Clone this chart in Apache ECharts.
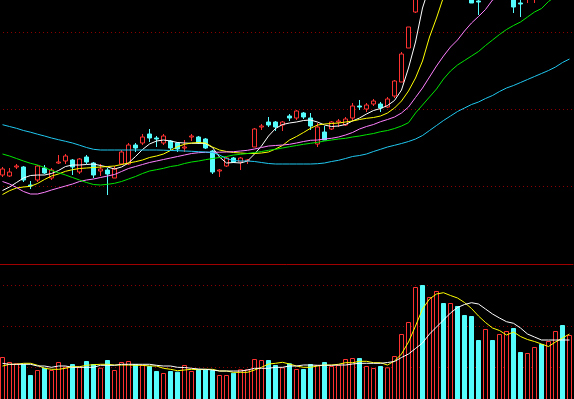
<!DOCTYPE html>
<html>
<head>
<meta charset="utf-8">
<script src="https://cdn.jsdelivr.net/npm/echarts@6/dist/echarts.min.js"></script>
<style>
  html, body { margin: 0; padding: 0; background: #000; }
  #chart-container { width: 574px; height: 399px; }
</style>
</head>
<body>
<div id="chart-container"></div>
<script>
// daily bars: [open, close, low, high]
var ohlc = [
  [8.58, 8.64, 8.56, 8.66], [8.57, 8.61, 8.56, 8.65], [8.66, 8.67, 8.64, 8.69], [8.66, 8.53, 8.51, 8.67],
  [8.48, 8.47, 8.44, 8.52], [8.53, 8.67, 8.51, 8.68], [8.65, 8.60, 8.59, 8.68], [8.55, 8.63, 8.53, 8.65],
  [8.70, 8.71, 8.69, 8.78], [8.72, 8.77, 8.69, 8.79], [8.73, 8.66, 8.58, 8.74], [8.61, 8.74, 8.59, 8.75],
  [8.76, 8.71, 8.69, 8.78], [8.70, 8.58, 8.55, 8.71], [8.62, 8.64, 8.57, 8.69], [8.63, 8.59, 8.38, 8.65],
  [8.55, 8.64, 8.55, 8.67], [8.69, 8.81, 8.68, 8.83], [8.69, 8.88, 8.68, 8.90], [8.88, 8.85, 8.81, 8.90],
  [8.90, 8.96, 8.88, 8.99], [8.99, 8.95, 8.91, 9.04], [8.95, 8.94, 8.86, 8.97], [8.90, 8.97, 8.88, 8.99],
  [8.92, 8.85, 8.83, 8.93], [8.90, 8.84, 8.81, 8.91], [8.85, 8.86, 8.81, 8.93], [8.96, 8.97, 8.92, 8.99],
  [8.96, 8.90, 8.89, 8.97], [8.94, 8.85, 8.84, 8.95], [8.82, 8.61, 8.59, 8.83], [8.62, 8.63, 8.56, 8.64],
  [8.67, 8.75, 8.66, 8.76], [8.75, 8.71, 8.70, 8.76], [8.71, 8.75, 8.63, 8.76], [8.72, 8.73, 8.69, 8.74],
  [8.86, 9.04, 8.86, 9.05], [9.06, 9.07, 9.03, 9.09], [9.11, 9.08, 9.06, 9.16], [9.11, 9.06, 9.02, 9.12],
  [9.08, 9.11, 9.02, 9.12], [9.17, 9.15, 9.12, 9.19], [9.15, 9.22, 9.13, 9.23], [9.20, 9.16, 9.14, 9.21],
  [9.15, 9.07, 9.03, 9.20], [8.89, 9.06, 8.86, 9.10], [9.01, 8.93, 8.93, 9.07], [9.04, 9.11, 9.03, 9.12],
  [9.11, 9.12, 9.06, 9.14], [9.08, 9.14, 9.07, 9.16], [9.15, 9.27, 9.12, 9.30], [9.27, 9.26, 9.23, 9.33],
  [9.24, 9.28, 9.21, 9.30], [9.29, 9.32, 9.27, 9.34], [9.29, 9.25, 9.21, 9.31], [9.26, 9.34, 9.25, 9.36],
  [9.37, 9.52, 9.35, 9.53], [9.51, 9.79, 9.51, 9.81], [9.85, 10.06, 9.85, 10.06], [10.21, 10.73, 10.20, 10.77],
  [10.98, 10.83, 10.78, 11.05], [10.78, 10.93, 10.73, 10.99], [10.93, 11.28, 10.88, 11.33], [11.33, 11.08, 11.03, 11.43],
  [11.08, 11.33, 11.03, 11.41], [11.33, 11.03, 10.95, 11.38], [10.98, 10.63, 10.58, 11.05], [10.63, 10.30, 10.30, 10.68],
  [10.32, 10.31, 10.18, 10.45], [10.35, 10.78, 10.34, 10.83], [10.83, 10.53, 10.48, 10.91], [10.53, 10.81, 10.49, 10.85],
  [10.78, 10.93, 10.73, 10.99], [10.88, 10.26, 10.20, 10.93], [10.30, 10.29, 10.16, 10.41], [10.39, 10.63, 10.30, 10.67],
  [10.58, 10.83, 10.30, 10.88], [10.83, 10.63, 10.58, 10.93], [10.63, 10.88, 10.59, 10.93], [10.88, 11.13, 10.83, 11.18],
  [11.13, 10.88, 10.83, 11.23], [10.88, 11.08, 10.83, 11.13]
];

// moving averages as drawn on the price panel
var ma5 = [8.425, 8.46, 8.505, 8.55, 8.575, 8.58, 8.58, 8.595, 8.625, 8.665, 8.68, 8.68, 8.685, 8.69, 8.675, 8.66,
  8.64, 8.66, 8.70, 8.765, 8.835, 8.89, 8.92, 8.93, 8.92, 8.905, 8.90, 8.897, 8.897, 8.895, 8.855, 8.76,
  8.70, 8.705, 8.70, 8.72, 8.79, 8.87, 8.97, 9.045, 9.085, 9.10, 9.11, 9.125, 9.13, 9.11, 9.08, 9.065,
  9.07, 9.085, 9.12, 9.15, 9.19, 9.225, 9.245, 9.275, 9.325, 9.43, 9.65, 9.91, 10.25, 10.467, 10.765, 10.97,
  11.09, 11.13, 11.07, 10.875, 10.72, 10.61, 10.51, 10.547, 10.67, 10.66, 10.56, 10.58, 10.587, 10.527, 10.65, 10.82,
  10.87, 10.92];
var ma10 = [8.385, 8.423, 8.45, 8.46, 8.467, 8.495, 8.535, 8.57, 8.59, 8.617, 8.633, 8.645, 8.65, 8.655, 8.66, 8.665,
  8.67, 8.685, 8.70, 8.713, 8.73, 8.755, 8.77, 8.79, 8.825, 8.863, 8.887, 8.90, 8.905, 8.90, 8.86, 8.83,
  8.815, 8.805, 8.80, 8.795, 8.795, 8.80, 8.81, 8.84, 8.875, 8.93, 8.965, 9.005, 9.047, 9.08, 9.09, 9.095,
  9.10, 9.11, 9.12, 9.135, 9.147, 9.155, 9.17, 9.20, 9.25, 9.32, 9.42, 9.55, 9.72, 9.96, 10.15, 10.36,
  10.489, 10.658, 10.769, 10.82, 10.845, 10.85, 10.82, 10.808, 10.773, 10.69, 10.587, 10.547, 10.567, 10.60, 10.657, 10.69,
  10.727, 10.75];
var ma20 = [8.515, 8.49, 8.455, 8.415, 8.39, 8.39, 8.407, 8.43, 8.45, 8.47, 8.49, 8.515, 8.53, 8.54, 8.555, 8.57,
  8.585, 8.615, 8.645, 8.665, 8.685, 8.705, 8.72, 8.735, 8.75, 8.765, 8.78, 8.795, 8.803, 8.807, 8.807, 8.808,
  8.81, 8.813, 8.82, 8.827, 8.84, 8.855, 8.87, 8.875, 8.88, 8.887, 8.90, 8.915, 8.927, 8.93, 8.94, 8.947,
  8.96, 8.98, 9.005, 9.04, 9.065, 9.085, 9.113, 9.135, 9.16, 9.20, 9.26, 9.355, 9.45, 9.56, 9.67, 9.77,
  9.86, 9.93, 10.02, 10.10, 10.165, 10.235, 10.33, 10.36, 10.44, 10.49, 10.54, 10.60, 10.67, 10.71, 10.75, 10.77,
  10.77, 10.78];
var ma30 = [8.79, 8.77, 8.745, 8.72, 8.697, 8.68, 8.655, 8.625, 8.603, 8.58, 8.555, 8.53, 8.505, 8.485, 8.48, 8.487,
  8.497, 8.515, 8.54, 8.565, 8.595, 8.62, 8.633, 8.647, 8.665, 8.675, 8.695, 8.71, 8.72, 8.733, 8.745, 8.755,
  8.765, 8.78, 8.787, 8.795, 8.805, 8.815, 8.827, 8.837, 8.85, 8.863, 8.875, 8.887, 8.897, 8.907, 8.92, 8.93,
  8.94, 8.947, 8.96, 8.97, 8.983, 8.995, 9.013, 9.025, 9.045, 9.07, 9.103, 9.20, 9.28, 9.36, 9.44, 9.54,
  9.62, 9.68, 9.725, 9.77, 9.815, 9.875, 9.93, 9.985, 10.035, 10.075, 10.11, 10.16, 10.21, 10.245, 10.315, 10.365,
  10.41, 10.45];
var ma120 = [9.083, 9.065, 9.047, 9.025, 9.008, 8.988, 8.97, 8.95, 8.933, 8.917, 8.90, 8.878, 8.855, 8.837, 8.83, 8.83,
  8.83, 8.83, 8.83, 8.83, 8.83, 8.83, 8.83, 8.828, 8.825, 8.823, 8.82, 8.817, 8.813, 8.81, 8.805, 8.78,
  8.745, 8.725, 8.72, 8.72, 8.715, 8.705, 8.695, 8.69, 8.69, 8.69, 8.69, 8.69, 8.69, 8.693, 8.70, 8.715,
  8.727, 8.745, 8.765, 8.775, 8.79, 8.815, 8.837, 8.86, 8.877, 8.895, 8.915, 8.94, 8.975, 9.025, 9.075, 9.125,
  9.17, 9.215, 9.25, 9.285, 9.31, 9.345, 9.375, 9.415, 9.45, 9.475, 9.505, 9.535, 9.565, 9.595, 9.625, 9.66,
  9.705, 9.74];

// volume (thousand lots) and its averages
var volume = [51, 46, 44.7, 44, 33, 38, 40.3, 38, 46, 41.3, 44, 41.3, 47, 44, 40.3, 48,
  38, 46, 47, 44, 43, 42, 37, 35, 37, 36.3, 43, 37, 39, 38.7, 38, 33,
  33, 35.3, 38.7, 38.7, 49, 48, 48, 43, 40.7, 44.7, 39, 39, 44, 43, 46, 42,
  43, 49, 50, 50, 42, 40, 42, 40.7, 52, 74, 86, 121, 123, 111, 117, 105,
  105, 102, 93, 92, 68, 79, 68, 74, 77, 80, 56, 55, 61, 64, 67, 77,
  83, 73];
var volMa5 = [42, 43.7, 43.7, 44.7, 44.7, 42.7, 39.7, 38.7, 38.7, 39.7, 41.3, 41.3, 42.7, 43.3, 43.7, 43.7,
  43, 43, 43, 42.7, 42.7, 42, 42, 39.7, 38.7, 37.3, 38, 38.7, 38.3, 38.7, 38.7, 37,
  37, 35.7, 35.7, 35.7, 38, 40.7, 44, 44.7, 45.7, 44, 42, 40.7, 40.7, 42, 43, 43,
  43.7, 45.3, 45.3, 46.7, 46.7, 45.3, 45.3, 43, 47, 54, 66, 82, 99, 109, 114, 115.3,
  112.5, 110, 105.5, 99.5, 92, 85.5, 80, 77.5, 73, 76, 71.5, 68.5, 66.5, 64, 61.5, 66,
  70, 74];
var volMa10 = [44.7, 43.7, 43.7, 43.7, 43.7, 42, 42, 40.7, 42, 42, 40.7, 40.7, 40.7, 40.7, 42.7, 42.7,
  42.7, 43.7, 43.7, 43.7, 43.7, 43.7, 42.7, 42, 42, 40.7, 40.5, 39.7, 39, 38.7, 38, 37,
  37, 37, 37, 38, 39.7, 39.7, 39.7, 40.7, 40.7, 42, 42, 43, 43, 42.7, 42.7, 42.7,
  43, 43, 44, 44.7, 44.7, 44.7, 44.7, 45.5, 46.5, 50.5, 54, 59.5, 65, 74, 81, 88,
  95, 100.5, 103.5, 105.3, 104, 99, 94, 90, 86.3, 84.7, 80, 74, 71, 68, 68, 68,
  68, 68];

var days = ohlc.map(function (d, i) { return String(i + 1); });

var UP = '#ff3232';
var DOWN = '#54fcfc';
var GRID_LINE = '#8c0000';

var volBars = volume.map(function (v, i) {
  var up = ohlc[i][1] >= ohlc[i][0];
  return {
    value: v,
    itemStyle: up
      ? { color: '#000', borderColor: UP, borderWidth: 1 }
      : { color: DOWN, borderColor: DOWN, borderWidth: 1 }
  };
});

function maLine(name, data, color, axis) {
  return {
    name: name,
    type: 'line',
    xAxisIndex: axis,
    yAxisIndex: axis,
    data: data,
    showSymbol: false,
    silent: true,
    lineStyle: { color: color, width: 1 },
    z: 5
  };
}

var dom = document.getElementById('chart-container');
var myChart = echarts.init(dom, null, { renderer: 'canvas' });

var option = {
  backgroundColor: '#000',
  animation: false,
  grid: [
    { left: -1, right: 1, top: -45, bottom: 136, outerBoundsMode: 'none' },
    { left: -1, right: 1, top: 264, bottom: -9, outerBoundsMode: 'none' }
  ],
  xAxis: [
    {
      type: 'category', gridIndex: 0, data: days,
      axisLine: { show: false }, axisTick: { show: false }, axisLabel: { show: false }
    },
    {
      type: 'category', gridIndex: 1, data: days, position: 'top',
      axisLine: { show: true, onZero: false, lineStyle: { color: '#a00000', width: 1 } },
      axisTick: { show: false }, axisLabel: { show: false }
    }
  ],
  yAxis: [
    {
      type: 'value', gridIndex: 0, min: 7.70, max: 10.78, interval: 0.77,
      axisLine: { show: false }, axisTick: { show: false }, axisLabel: { show: false },
      splitLine: { show: true, showMinLine: false, lineStyle: { color: GRID_LINE, type: [1, 3] } }
    },
    {
      type: 'value', gridIndex: 1, min: 0, max: 144, interval: 41,
      axisLine: { show: false }, axisTick: { show: false }, axisLabel: { show: false },
      splitLine: { show: true, showMaxLine: false, lineStyle: { color: GRID_LINE, type: [1, 3] } }
    }
  ],
  series: [
    {
      name: 'K',
      type: 'candlestick',
      xAxisIndex: 0,
      yAxisIndex: 0,
      data: ohlc,
      barWidth: 4,
      itemStyle: {
        color: '#000',
        color0: DOWN,
        borderColor: UP,
        borderColor0: DOWN,
        borderWidth: 1
      },
      z: 3
    },
    maLine('MA5', ma5, '#ffffff', 0),
    maLine('MA10', ma10, '#ffff00', 0),
    maLine('MA20', ma20, '#ff80ff', 0),
    maLine('MA30', ma30, '#00e600', 0),
    maLine('MA120', ma120, '#20c8f0', 0),
    {
      name: 'VOL',
      type: 'bar',
      xAxisIndex: 1,
      yAxisIndex: 1,
      data: volBars,
      barWidth: 5,
      clip: false,
      z: 3
    },
    maLine('VOL-MA5', volMa5, '#ffff00', 1),
    maLine('VOL-MA10', volMa10, '#ffffff', 1)
  ]
};

if (option && typeof option === 'object') {
  myChart.setOption(option);
}

window.addEventListener('resize', myChart.resize);
</script>
</body>
</html>
